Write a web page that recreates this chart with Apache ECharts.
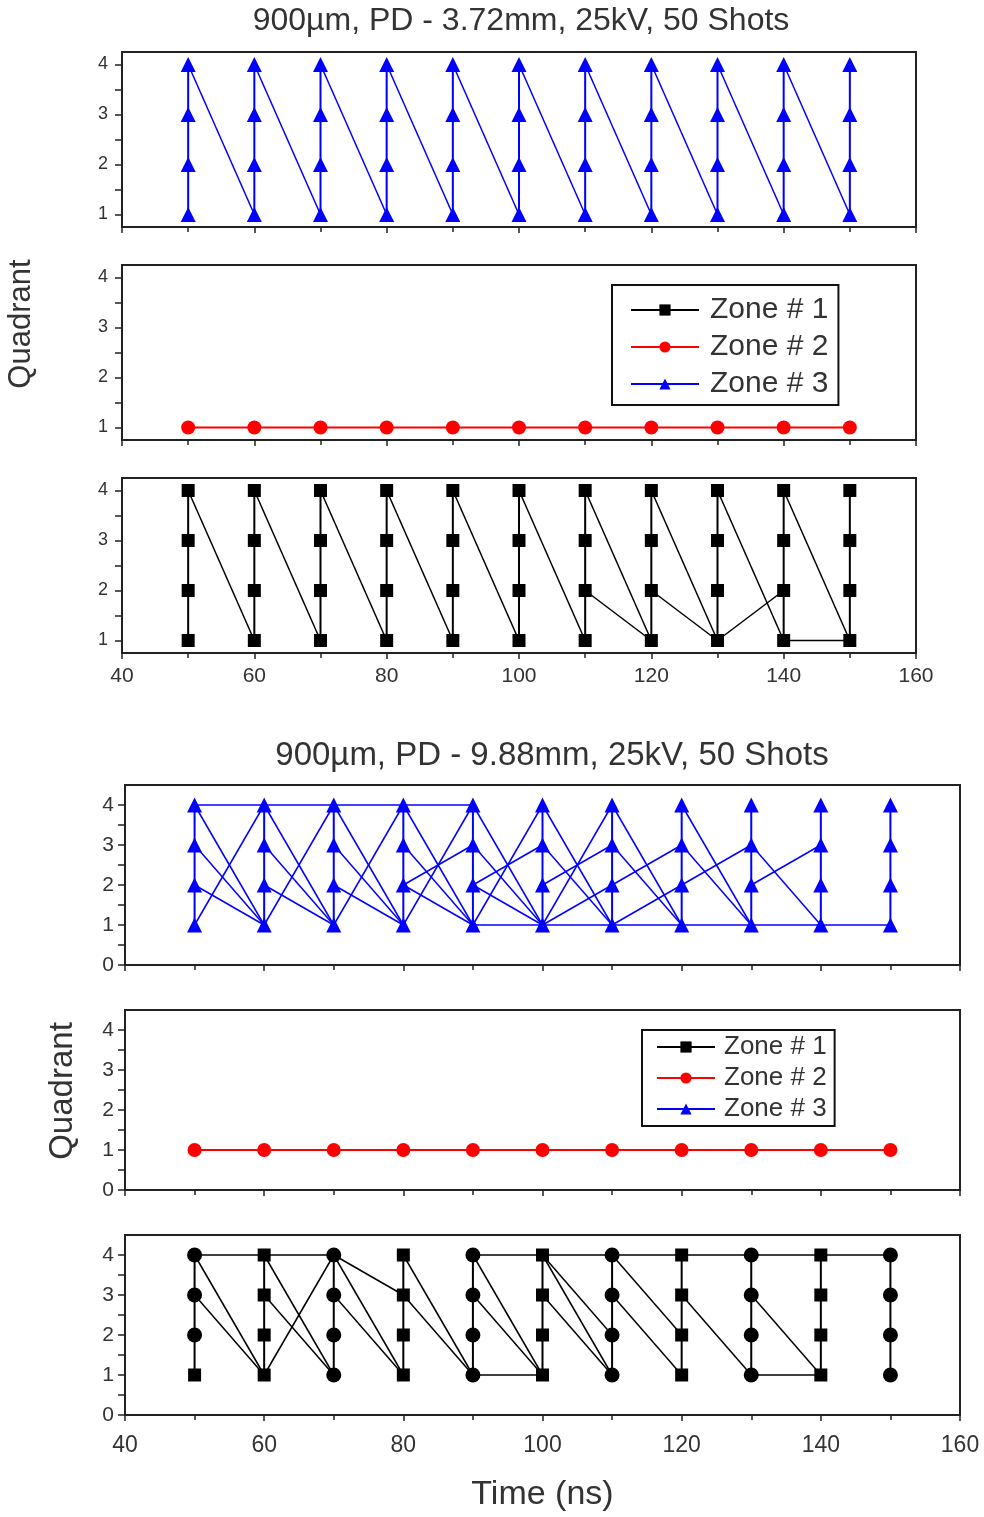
<!DOCTYPE html>
<html>
<head>
<meta charset="utf-8">
<script src="https://cdn.jsdelivr.net/npm/echarts@6/dist/echarts.min.js"></script>
<style>
  html, body { margin: 0; padding: 0; background: #fff; }
  #main { width: 984px; height: 1517px; }
</style>
</head>
<body>
<div id="main"></div>
<script>
// shared axis values
var times = [50, 60, 70, 80, 90, 100, 110, 120, 130, 140, 150];
var quadrants = [1, 2, 3, 4];
var topYLabels = [1, 2, 3, 4];
var topYTicks = [1, 1.5, 2, 2.5, 3, 3.5, 4];
var botYLabels = [0, 1, 2, 3, 4];
var botYTicks = [0, 0.5, 1, 1.5, 2, 2.5, 3, 3.5, 4];

// top figure (PD 3.72mm): links are [t1, q1, t2, q2]
var topZone1Links = [
  [50, 4, 60, 1], [60, 4, 70, 1], [70, 4, 80, 1], [80, 4, 90, 1], [90, 4, 100, 1],
  [100, 4, 110, 1], [110, 4, 120, 1], [120, 4, 130, 1], [130, 4, 140, 1], [140, 4, 150, 1],
  [110, 2, 120, 1], [120, 2, 130, 1], [130, 1, 140, 2], [140, 1, 150, 1]
];
var topZone2Points = [[50, 1], [60, 1], [70, 1], [80, 1], [90, 1], [100, 1], [110, 1], [120, 1], [130, 1], [140, 1], [150, 1]];
var topZone3Links = [
  [50, 4, 60, 1], [60, 4, 70, 1], [70, 4, 80, 1], [80, 4, 90, 1], [90, 4, 100, 1],
  [100, 4, 110, 1], [110, 4, 120, 1], [120, 4, 130, 1], [130, 4, 140, 1], [140, 4, 150, 1]
];

// bottom figure (PD 9.88mm)
var botZone1Links = [
  [50, 4, 70, 4], [90, 4, 150, 4], [90, 1, 100, 1], [130, 1, 140, 1],
  [50, 4, 60, 1], [50, 3, 60, 1],
  [60, 1, 70, 4], [60, 4, 70, 1], [60, 3, 70, 1],
  [70, 4, 80, 1], [70, 3, 80, 1], [70, 4, 80, 3],
  [80, 4, 90, 1], [80, 3, 90, 1],
  [90, 4, 100, 1], [90, 3, 100, 1],
  [100, 4, 110, 1], [100, 4, 110, 2], [100, 3, 110, 1],
  [110, 4, 120, 2], [110, 3, 120, 1],
  [120, 3, 130, 1],
  [130, 3, 140, 1]
];
// points drawn as circles in the black bottom panel: [t, q]
var botZone1CirclePoints = [
  [50, 2], [50, 3], [50, 4], [70, 1], [70, 2], [70, 3], [70, 4],
  [90, 1], [90, 2], [90, 3], [90, 4], [110, 1], [110, 2], [110, 3], [110, 4],
  [130, 1], [130, 2], [130, 3], [130, 4], [150, 1], [150, 2], [150, 3], [150, 4]
];
var botZone2Points = [[50, 1], [60, 1], [70, 1], [80, 1], [90, 1], [100, 1], [110, 1], [120, 1], [130, 1], [140, 1], [150, 1]];
var botZone3Links = [
  [50, 4, 90, 4], [90, 1, 150, 1],
  [50, 4, 60, 1], [50, 3, 60, 1], [50, 2, 60, 1], [50, 1, 60, 4],
  [60, 4, 70, 1], [60, 3, 70, 1], [60, 2, 70, 1], [60, 1, 70, 4],
  [70, 4, 80, 1], [70, 3, 80, 1], [70, 2, 80, 1], [70, 1, 80, 4],
  [80, 4, 90, 1], [80, 3, 90, 1], [80, 2, 90, 1], [80, 1, 90, 4], [80, 2, 90, 3],
  [90, 4, 100, 1], [90, 3, 100, 1], [90, 2, 100, 1], [90, 1, 100, 4], [90, 2, 100, 3],
  [100, 4, 110, 1], [100, 3, 110, 1], [100, 1, 110, 4], [100, 2, 110, 3], [100, 1, 110, 2],
  [110, 4, 120, 1], [110, 3, 120, 1], [110, 2, 120, 3], [110, 1, 120, 2],
  [120, 4, 130, 1], [120, 3, 130, 1], [120, 2, 130, 3],
  [130, 3, 140, 1], [130, 2, 140, 3]
];

var names = ['Zone # 1', 'Zone # 2', 'Zone # 3'];
var colors = { 'Zone # 1': '#000000', 'Zone # 2': '#ff0000', 'Zone # 3': '#0000ff' };
var symbols = { 'Zone # 1': 'rect', 'Zone # 2': 'circle', 'Zone # 3': 'triangle' };
var sizes = { 'Zone # 1': 13, 'Zone # 2': 14, 'Zone # 3': 15, circle: 15 };
var font = 'Arial, "Liberation Sans", sans-serif';

var series = [];

function isCirclePoint(list, t, q) {
  return !!list && list.some(function (p) { return p[0] === t && p[1] === q; });
}

function addColumns(panel, name, circlePoints) {
  times.forEach(function (t) {
    series.push({
      name: name, type: 'line', xAxisIndex: panel, yAxisIndex: panel,
      data: quadrants.map(function (q) {
        return isCirclePoint(circlePoints, t, q)
          ? { value: [t, q], symbol: 'circle', symbolSize: sizes.circle }
          : { value: [t, q] };
      }),
      symbol: symbols[name],
      symbolSize: sizes[name],
      lineStyle: { color: colors[name], width: 2 },
      itemStyle: { color: colors[name] },
      z: 3
    });
  });
}

function addLinks(panel, name, links) {
  links.forEach(function (l) {
    series.push({
      name: name, type: 'line', xAxisIndex: panel, yAxisIndex: panel,
      data: [[l[0], l[1]], [l[2], l[3]]],
      symbol: 'none',
      lineStyle: { color: colors[name], width: 1.5 },
      itemStyle: { color: colors[name] },
      z: 2
    });
  });
}

function addPoints(panel, name, pts) {
  series.push({
    name: name, type: 'line', xAxisIndex: panel, yAxisIndex: panel,
    data: pts,
    symbol: symbols[name], symbolSize: sizes[name],
    lineStyle: { color: colors[name], width: 2 },
    itemStyle: { color: colors[name] },
    z: 3
  });
}

// top figure: panel 0 zone 3, panel 1 zone 2, panel 2 zone 1
addColumns(2, 'Zone # 1');
addPoints(1, 'Zone # 2', topZone2Points);
addColumns(0, 'Zone # 3');
addLinks(2, 'Zone # 1', topZone1Links);
addLinks(0, 'Zone # 3', topZone3Links);
// bottom figure: panel 3 zone 3, panel 4 zone 2, panel 5 zone 1
addColumns(5, 'Zone # 1', botZone1CirclePoints);
addLinks(5, 'Zone # 1', botZone1Links);
addPoints(4, 'Zone # 2', botZone2Points);
addColumns(3, 'Zone # 3');
addLinks(3, 'Zone # 3', botZone3Links);

var grids = [
  { left: 122, right: 68, top: 52, height: 175 },
  { left: 122, right: 68, top: 265, height: 175 },
  { left: 122, right: 68, top: 478, height: 175 },
  { left: 125, right: 24, top: 785, height: 180 },
  { left: 125, right: 24, top: 1010, height: 180 },
  { left: 125, right: 24, top: 1235, height: 180 }
];
grids.forEach(function (g) {
  g.show = true;
  g.borderColor = '#222';
  g.borderWidth = 2;
  g.containLabel = false;
});

var xAxes = grids.map(function (g, i) {
  var isTop = i < 3;
  return {
    type: 'value', gridIndex: i, min: 40, max: 160, interval: 20,
    axisLine: { show: true, lineStyle: { color: '#222', width: 2 } },
    axisTick: { show: true, length: 6, lineStyle: { color: '#222', width: 1.5 } },
    minorTick: { show: true, splitNumber: 2, length: 5, lineStyle: { color: '#222', width: 1.5 } },
    splitLine: { show: false },
    axisLabel: {
      show: i === 2 || i === 5,
      margin: isTop ? 13 : 19,
      fontSize: isTop ? 21 : 23,
      color: '#333',
      fontFamily: font
    },
    name: i === 5 ? 'Time (ns)' : '',
    nameLocation: 'middle',
    nameGap: 63,
    nameTextStyle: { fontSize: 34, color: '#333', fontFamily: font }
  };
});

var yAxes = grids.map(function (g, i) {
  var isTop = i < 3;
  return {
    type: 'value', gridIndex: i,
    min: isTop ? 0.75 : 0, max: isTop ? 4.25 : 4.5,
    axisLine: { show: true, lineStyle: { color: '#222', width: 2 } },
    axisTick: { show: true, length: 7, customValues: isTop ? topYTicks : botYTicks, lineStyle: { color: '#222', width: 1.5 } },
    splitLine: { show: false },
    axisLabel: {
      customValues: isTop ? topYLabels : botYLabels,
      margin: isTop ? 14 : 11,
      fontSize: isTop ? 18 : 21,
      color: '#333',
      fontFamily: font
    }
  };
});

var legendBase = {
  orient: 'vertical', data: names, selectedMode: false,
  borderColor: '#111', borderWidth: 2, backgroundColor: '#fff'
};

var option = {
  animation: false,
  backgroundColor: '#fff',
  grid: grids,
  xAxis: xAxes,
  yAxis: yAxes,
  legend: [
    Object.assign({}, legendBase, {
      left: 612, top: 285, padding: [10, 10, 6, 18], itemGap: 7,
      itemWidth: 68, itemHeight: 14,
      textStyle: { fontSize: 30, color: '#333', fontFamily: font, padding: [0, 0, 0, 6] }
    }),
    Object.assign({}, legendBase, {
      left: 642, top: 1030, padding: [4, 8, 4, 14], itemGap: 5,
      itemWidth: 58, itemHeight: 14,
      textStyle: { fontSize: 26, color: '#333', fontFamily: font, padding: [0, 0, 0, 4] }
    })
  ],
  graphic: [
    { type: 'text', x: 521, y: 21, style: { text: '900\u00b5m, PD - 3.72mm, 25kV, 50 Shots', font: '32px ' + font, fill: '#333', textAlign: 'center', textVerticalAlign: 'middle' } },
    { type: 'text', x: 552, y: 756, style: { text: '900\u00b5m, PD - 9.88mm, 25kV, 50 Shots', font: '33px ' + font, fill: '#333', textAlign: 'center', textVerticalAlign: 'middle' } },
    { type: 'text', x: 21, y: 324, rotation: Math.PI / 2, style: { text: 'Quadrant', font: '31px ' + font, fill: '#333', textAlign: 'center', textVerticalAlign: 'middle' } },
    { type: 'text', x: 63, y: 1091, rotation: Math.PI / 2, style: { text: 'Quadrant', font: '33px ' + font, fill: '#333', textAlign: 'center', textVerticalAlign: 'middle' } }
  ],
  series: series
};

var chart = echarts.init(document.getElementById('main'));
chart.setOption(option);
</script>
</body>
</html>
